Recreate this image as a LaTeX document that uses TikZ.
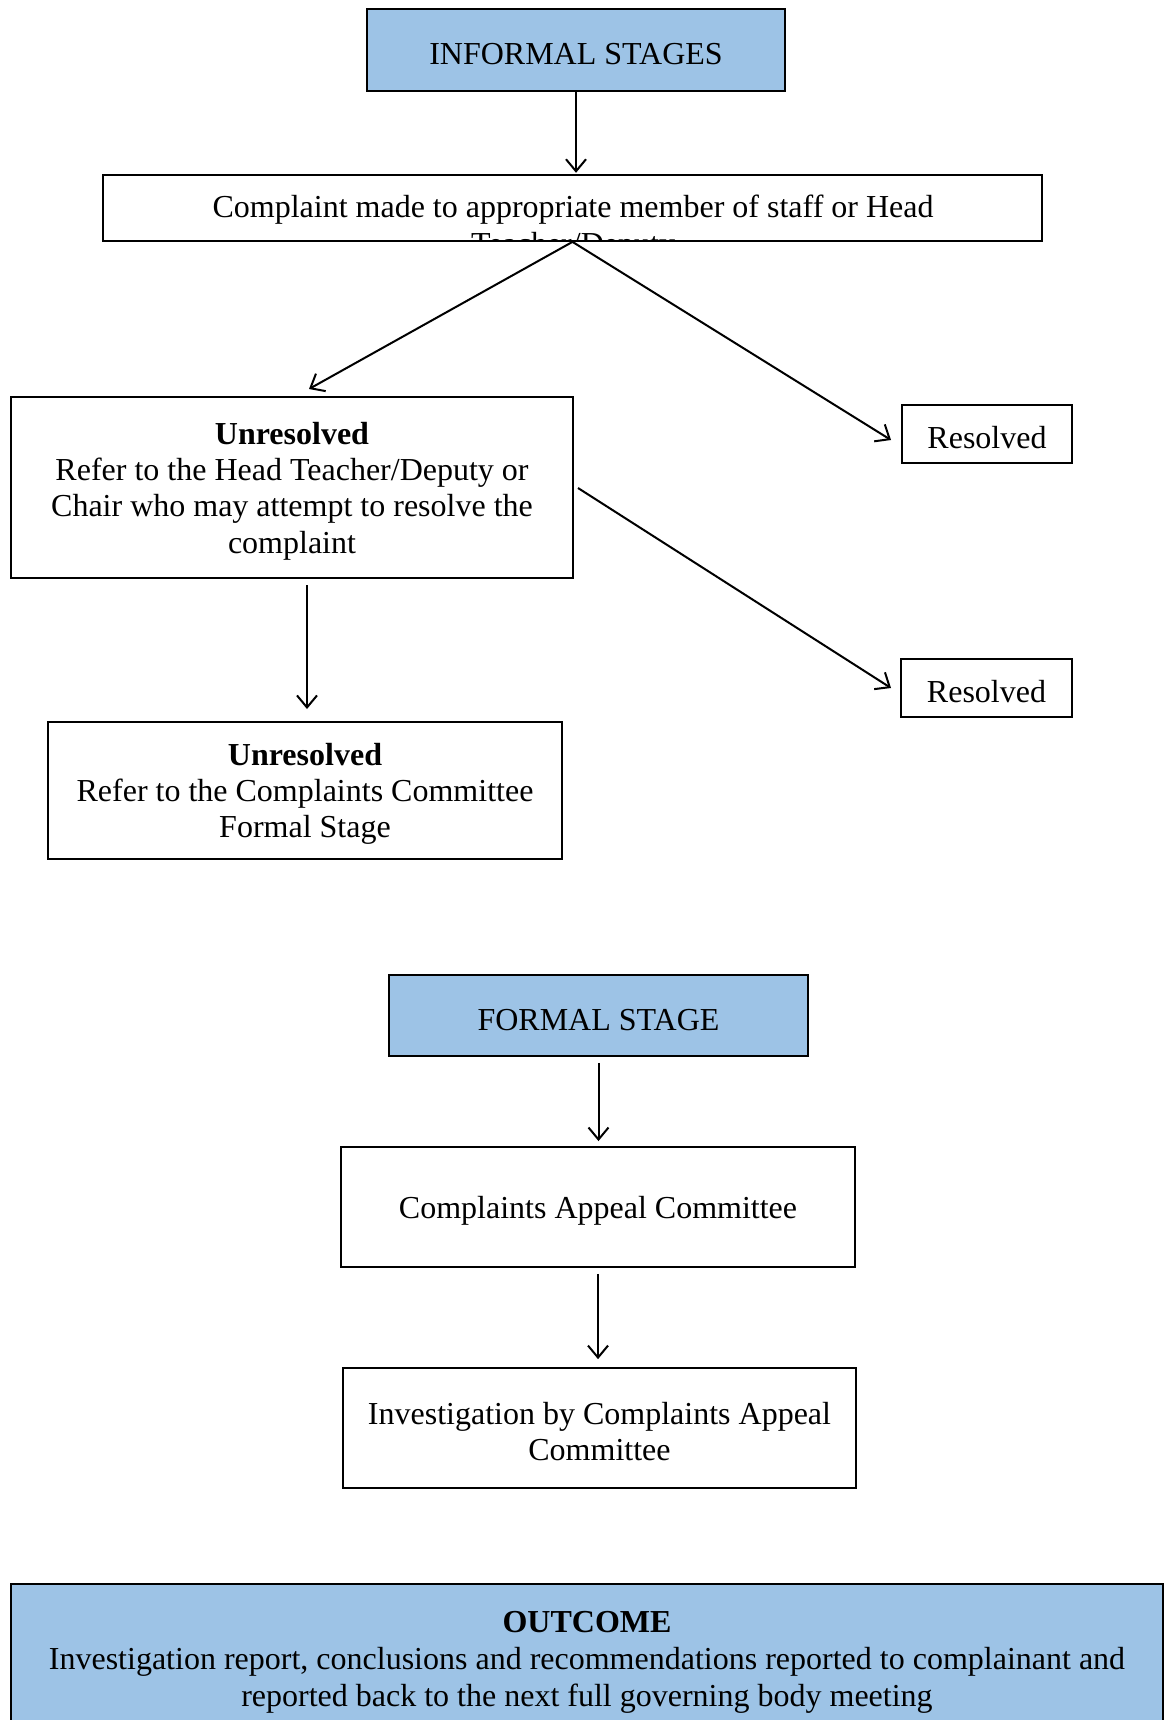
\documentclass[tikz,border=0pt]{standalone}
\usepackage{fontspec}
\setmainfont{Liberation Serif}
\usetikzlibrary{arrows.meta}
\definecolor{stageblue}{RGB}{157,195,230}
\newcommand{\pxlen}{0.375pt}
\newcommand{\lowstrut}{\rule{0pt}{11pt}}
\begin{document}
\begin{tikzpicture}[x=0.375pt,y=-0.375pt,
  bx/.style={draw, line width=0.65pt, inner sep=0pt, align=center,
    font=\fontsize{12}{13.6}\selectfont},
  stagebx/.style={bx, fill=stageblue},
  txt/.style={inner sep=0pt, align=center, font=\fontsize{12}{13.9}\selectfont},
  arr/.style={line width=0.75pt, -{Straight Barb[length=4.5pt,width=7.5pt]}}]
\path[use as bounding box, clip] (0,0) rectangle (1164,1720);
\fill[white] (0,0) rectangle (1164,1720);

% informal part
\node[stagebx, minimum width={418*\pxlen}, minimum height={82*\pxlen}] (inf) at (576,50) {\lowstrut INFORMAL STAGES};
\node[bx, minimum width={939*\pxlen}, minimum height={66*\pxlen}] (complaint) at (572.5,208) {};
\begin{scope}
\clip (complaint.north west) rectangle (complaint.south east);
\node[txt] (complainttext) at (573,228) {Complaint made to appropriate member of staff or Head\\Teacher/Deputy};
\end{scope}
\node[bx, minimum width={562*\pxlen}, minimum height={181*\pxlen}] (unres1) at (292,487.5)
  {\lowstrut\textbf{Unresolved}\\Refer to the Head Teacher/Deputy or\\Chair who may attempt to resolve the\\complaint};
\node[bx, minimum width={170*\pxlen}, minimum height={58*\pxlen}] (res1) at (987,434) {\lowstrut Resolved};
\node[bx, minimum width={171*\pxlen}, minimum height={58*\pxlen}] (res2) at (986.5,688) {\lowstrut Resolved};
\node[bx, minimum width={514*\pxlen}, minimum height={137*\pxlen}] (unres2) at (305,790.5)
  {\lowstrut\textbf{Unresolved}\\Refer to the Complaints Committee\\Formal Stage};

\coordinate (c1) at (309,389);
\coordinate (c2) at (891,440);
\coordinate (c3) at (578,488);
\coordinate (c4) at (891,688);
\coordinate (c5) at (307,585);
\coordinate (c6) at (307,709);

\draw[arr, shorten >=0.5pt] (inf.south) -- (inf.south |- complaint.north);
\draw[arr] (complaint.south) -- (c1);
\draw[arr] (complaint.south) -- (c2);
\draw[arr] (c3) -- (c4);
\draw[arr] (c5) -- (c6);

% formal part
\node[stagebx, minimum width={419*\pxlen}, minimum height={81*\pxlen}] (formal) at (598.5,1015.5) {\lowstrut FORMAL STAGE};
\node[bx, minimum width={514*\pxlen}, minimum height={120*\pxlen}] (cac) at (598,1207) {\lowstrut Complaints Appeal Committee};
\node[bx, minimum width={513*\pxlen}, minimum height={120*\pxlen}] (inv) at (599.5,1428) {\lowstrut Investigation by Complaints Appeal\\Committee};

\draw[arr, shorten <=2.25pt, shorten >=1.9pt] (formal.south) -- (formal.south |- cac.north);
\draw[arr, shorten <=2.25pt, shorten >=3pt] (cac.south) -- (cac.south |- inv.north);

% outcome
\node[stagebx, minimum width={1152*\pxlen}, minimum height={156*\pxlen}, font=\fontsize{12}{13.9}\selectfont] (outcome) at (587,1662)
  {\textbf{OUTCOME}\\Investigation report, conclusions and recommendations reported to complainant and\\reported back to the next full governing body meeting};
\end{tikzpicture}
\end{document}
